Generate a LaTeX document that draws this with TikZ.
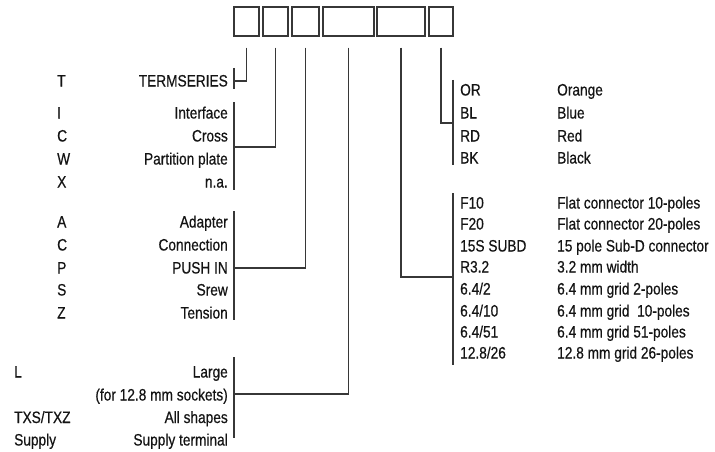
\documentclass[tikz,border=0pt]{standalone}
\usepackage{fontspec}
\newfontfamily\condfont{Liberation Sans}[FakeStretch=0.83,FakeBold=0.5]
\definecolor{codeink}{RGB}{20,20,20}
\definecolor{leadgray}{RGB}{55,55,55}

\begin{document}
\begin{tikzpicture}[x=1pt,y=-1pt,font=\condfont\fontsize{16.5}{19}\selectfont,
    box/.style={draw=leadgray,line width=1.3pt,minimum height=29pt,inner sep=0pt},
    lead/.style={draw=leadgray,line width=1.3pt},
    code/.style={anchor=base west,inner sep=0pt,text=codeink},
    desc/.style={anchor=base east,inner sep=0pt,text=codeink}]
    \useasboundingbox (0,0) rectangle (715,452);
    % Felder der Bestellnummer
    \foreach \name/\xa/\xb in {bT/234/259,bI/263/288,bA/292/319,bL/323/374,bF/377/425,bO/429/453}{
      \node[box,minimum width=\xb-\xa] (\name) at ({(\xa+\xb)/2},21.5) {};
    }
    % linke Spalten
    \node[code] (cT) at (57,86.5) {T};
    \node[desc] (dT) at (228,86.5) {TERMSERIES};
    \foreach \i/\y/\c/\d in {1/113/I/Interface,2/136/C/Cross,3/159/W/Partition plate,4/182/X/n.a.}{
      \node[code] (cI\i) at (57,\y+5.5) {\c};
      \node[desc] (dI\i) at (228,\y+5.5) {\d};
    }
    \foreach \i/\y/\c/\d in {1/222/A/Adapter,2/245/C/Connection,3/268/P/PUSH IN,4/290/S/Srew,5/313/Z/Tension}{
      \node[code] (cA\i) at (57,\y+5.5) {\c};
      \node[desc] (dA\i) at (228,\y+5.5) {\d};
    }
    \node[code] (cL1) at (14,377.5) {L};
    \node[desc] (dL1) at (228,377.5) {Large};
    \node[desc] (dL2) at (228,400.5) {(for 12.8 mm sockets)};
    \node[code] (cL3) at (14,423) {TXS/TXZ};
    \node[desc] (dL3) at (228,423) {All shapes};
    \node[code] (cL4) at (14,445.5) {Supply};
    \node[desc] (dL4) at (228,445.5) {Supply terminal};
    % rechte Spalten
    \foreach \i/\y/\c/\d in {1/90/OR/Orange,2/113/BL/Blue,3/136/RD/Red,4/158/BK/Black}{
      \node[code] (cO\i) at (460,\y+5.5) {\c};
      \node[code] (dO\i) at (557,\y+5.5) {\d};
    }
    \foreach \i/\y/\c/\d in {1/203/F10/Flat connector 10-poles,2/224/F20/Flat connector 20-poles,
        3/246/15S SUBD/15 pole Sub-D connector,4/267/R3.2/3.2 mm width,
        5/289/{6.4/2}/6.4 mm grid 2-poles,6/311/{6.4/10}/6.4 mm grid\ \ 10-poles,
        7/332/{6.4/51}/6.4 mm grid 51-poles,8/353/{12.8/26}/12.8 mm grid 26-poles}{
      \node[code] (cF\i) at (460,\y+5.5) {\c};
      \node[code] (dF\i) at (557,\y+5.5) {\d};
    }
    % Klammern
    \draw[lead] (234,68) -- (234,89);
    \draw[lead] (234,102) -- (234,190);
    \draw[lead] (234,211) -- (234,320);
    \draw[lead] (234,357) -- (234,438);
    \draw[lead] (453,80) -- (453,165);
    \draw[lead] (453,193) -- (453,365);
    \coordinate (jT) at (234,81);
    \coordinate (jI) at (234,147);
    \coordinate (jA) at (234,268);
    \coordinate (jL) at (234,394);
    \coordinate (jF) at (453,277);
    \coordinate (jO) at (453,123);
    % Verbindungen
    \foreach \b/\j in {bT/jT,bI/jI,bA/jA,bL/jL,bF/jF,bO/jO}{
      \draw[lead] ([yshift=-11pt]\b.south) |- (\j);
    }
  \end{tikzpicture}
\end{document}
